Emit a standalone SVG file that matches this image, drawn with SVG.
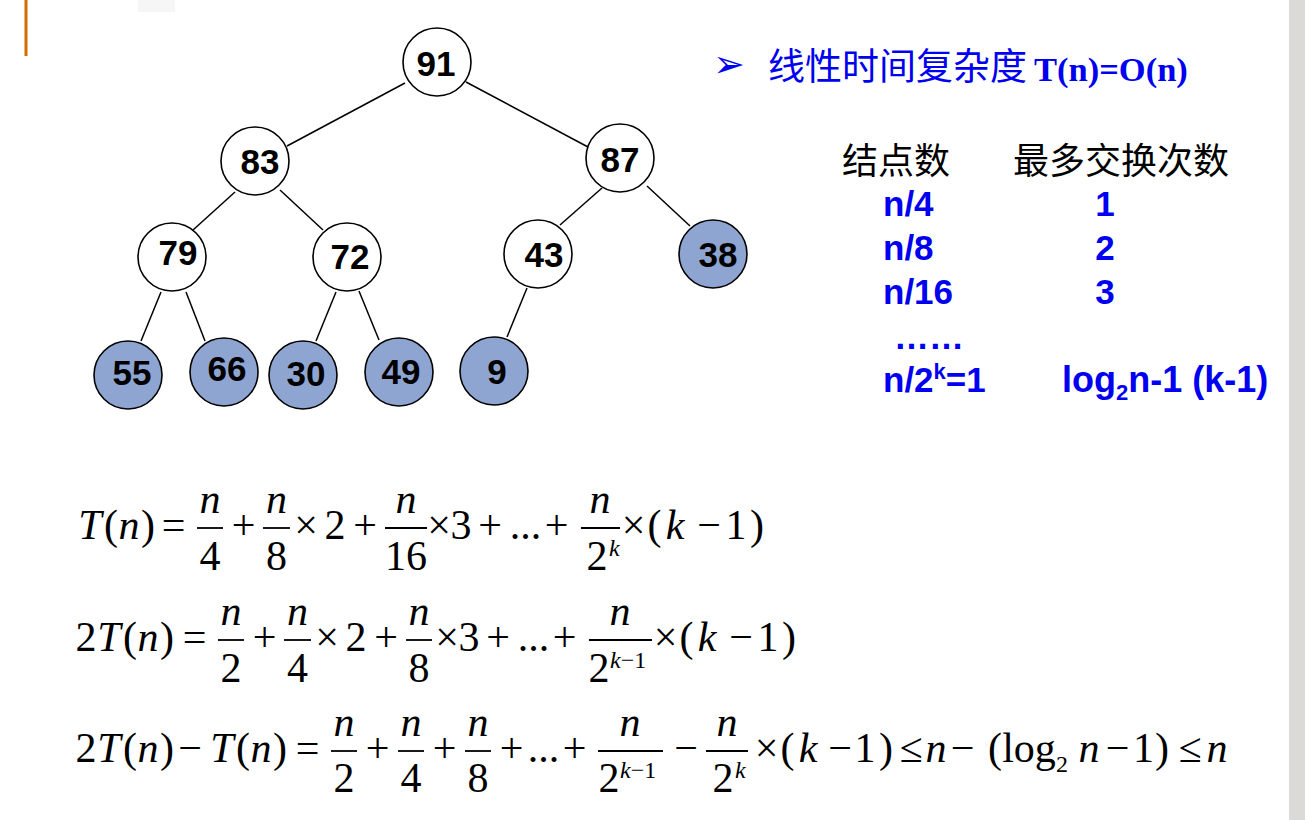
<svg xmlns="http://www.w3.org/2000/svg" width="1305" height="820" viewBox="0 0 1305 820">
<style>
.nd{stroke:#000;stroke-width:1.6}
.w{fill:#fff}
.b{fill:#8FA5D1}
.nt{font-family:"Liberation Sans",Arial,sans-serif;font-weight:bold;font-size:35px;fill:#000;text-anchor:middle}
.ed line{stroke:#000;stroke-width:1.5}
.cn{font-family:"Noto Sans CJK SC",sans-serif;font-size:36px;fill:#000}
.bl{font-family:"Liberation Sans",Arial,sans-serif;font-weight:bold;font-size:35px;fill:#0000F0}
.m{font-family:"Liberation Serif","Times New Roman",serif;font-size:42px;fill:#000;text-anchor:middle}
.i{font-style:italic}
.s{font-size:24px;text-anchor:start}
.fl{stroke:#000;stroke-width:1.8}
</style>
<rect x="1289" y="0" width="16" height="820" fill="#DCDAD6"/>
<rect x="24.5" y="0" width="3" height="56" fill="#D46C00"/>
<rect x="138" y="0" width="37" height="12" fill="#F6F6F6"/>

<g id="connectors" class="ed">
<line x1="405" y1="83" x2="287" y2="146"/>
<line x1="466" y1="82" x2="588" y2="147"/>
<line x1="235" y1="192" x2="193" y2="230"/>
<line x1="280" y1="190" x2="323" y2="230"/>
<line x1="602" y1="188" x2="560" y2="225"/>
<line x1="647" y1="186" x2="690" y2="226"/>
<line x1="161" y1="292" x2="141" y2="341"/>
<line x1="186" y1="292" x2="205" y2="341"/>
<line x1="336" y1="292" x2="316" y2="341"/>
<line x1="359" y1="291" x2="379" y2="340"/>
<line x1="527" y1="288" x2="507" y2="337"/>
</g>

<g id="n91"><circle class="nd w" cx="437" cy="62" r="34"/><text class="nt" x="436" y="76">91</text></g>
<g id="n83"><circle class="nd w" cx="255" cy="161" r="34"/><text class="nt" x="260" y="174">83</text></g>
<g id="n87"><circle class="nd w" cx="620" cy="158" r="34"/><text class="nt" x="620" y="172">87</text></g>
<g id="n79"><circle class="nd w" cx="172" cy="257" r="34"/><text class="nt" x="178" y="265">79</text></g>
<g id="n72"><circle class="nd w" cx="347" cy="257" r="34"/><text class="nt" x="350" y="269">72</text></g>
<g id="n43"><circle class="nd w" cx="538" cy="254" r="34"/><text class="nt" x="544" y="267">43</text></g>
<g id="n38"><circle class="nd b" cx="713" cy="254" r="34"/><text class="nt" x="718" y="267">38</text></g>
<g id="n55"><circle class="nd b" cx="128" cy="375" r="34"/><text class="nt" x="132" y="385">55</text></g>
<g id="n66"><circle class="nd b" cx="224" cy="372" r="34"/><text class="nt" x="227" y="381">66</text></g>
<g id="n30"><circle class="nd b" cx="303" cy="375" r="34"/><text class="nt" x="306" y="386">30</text></g>
<g id="n49"><circle class="nd b" cx="399" cy="372" r="34"/><text class="nt" x="401" y="384">49</text></g>
<g id="n9"><circle class="nd b" cx="494" cy="371" r="34"/><text class="nt" x="497" y="384">9</text></g>

<g id="heading">
<text x="713" y="77" font-family="DejaVu Sans,sans-serif" font-size="38" fill="#0000F0">➢</text>
<text x="768" y="80" font-family="Noto Sans CJK SC,sans-serif" font-size="37" fill="#0000F0">线性时间复杂度</text>
<text x="1034" y="81" font-family="Liberation Serif,Times New Roman,serif" font-weight="bold" font-size="34.5" fill="#0000F0">T(n)=O(n)</text>
</g>

<g id="table">
<text class="cn" x="842" y="174">结点数</text>
<text class="cn" x="1013" y="174">最多交换次数</text>
<text class="bl" x="883" y="216">n/4</text>
<text class="bl" x="1105" y="216" text-anchor="middle">1</text>
<text class="bl" x="883" y="260">n/8</text>
<text class="bl" x="1105" y="260" text-anchor="middle">2</text>
<text class="bl" x="883" y="304">n/16</text>
<text class="bl" x="1105" y="304" text-anchor="middle">3</text>
<text class="bl" x="894" y="349">……</text>
<text class="bl" x="883" y="392">n/2<tspan font-size="22" dy="-13">k</tspan><tspan dy="13">=1</tspan></text>
<text class="bl" x="1062" y="392" style="font-size:36px">log<tspan font-size="22" dy="8">2</tspan><tspan dy="-8">n-1 (k-1)</tspan></text>
</g>

<g id="formula1">
<text class="m i" x="90" y="539">T</text><text class="m" x="111" y="539">(</text><text class="m i" x="129" y="539">n</text><text class="m" x="148" y="539">)</text>
<text class="m" x="173.5" y="539">=</text>
<line class="fl" x1="197" y1="528" x2="223" y2="528"/><text class="m i" x="210" y="513">n</text><text class="m" x="210" y="570">4</text>
<text class="m" x="243.5" y="539">+</text>
<line class="fl" x1="263" y1="528" x2="290" y2="528"/><text class="m i" x="276.5" y="513">n</text><text class="m" x="276.5" y="570">8</text>
<text class="m" x="306" y="539">×</text><text class="m" x="335" y="539">2</text><text class="m" x="365" y="539">+</text>
<line class="fl" x1="385" y1="528" x2="427" y2="528"/><text class="m i" x="406" y="513">n</text><text class="m" x="406" y="570">16</text>
<text class="m" x="439" y="539">×</text><text class="m" x="461" y="539">3</text><text class="m" x="490" y="539">+</text>
<text class="m" x="525.5" y="539">...</text><text class="m" x="556.5" y="539">+</text>
<line class="fl" x1="581" y1="528" x2="620" y2="528"/><text class="m i" x="600" y="513">n</text><text class="m" x="597" y="570">2</text><text class="m i s" x="609" y="556">k</text>
<text class="m" x="633.5" y="539">×</text><text class="m" x="654.5" y="539">(</text><text class="m i" x="675" y="539">k</text><text class="m" x="709" y="539">−</text><text class="m" x="736" y="539">1</text><text class="m" x="757" y="539">)</text>
</g>

<g id="formula2">
<text class="m" x="86" y="651">2</text><text class="m i" x="109" y="651">T</text><text class="m" x="130" y="651">(</text><text class="m i" x="148" y="651">n</text><text class="m" x="167" y="651">)</text>
<text class="m" x="194.5" y="651">=</text>
<line class="fl" x1="218" y1="640" x2="244" y2="640"/><text class="m i" x="231" y="625">n</text><text class="m" x="231" y="682">2</text>
<text class="m" x="264.5" y="651">+</text>
<line class="fl" x1="284" y1="640" x2="311" y2="640"/><text class="m i" x="297.5" y="625">n</text><text class="m" x="297.5" y="682">4</text>
<text class="m" x="327" y="651">×</text><text class="m" x="356" y="651">2</text><text class="m" x="386" y="651">+</text>
<line class="fl" x1="406" y1="640" x2="432" y2="640"/><text class="m i" x="419" y="625">n</text><text class="m" x="419" y="682">8</text>
<text class="m" x="447" y="651">×</text><text class="m" x="469" y="651">3</text><text class="m" x="498" y="651">+</text>
<text class="m" x="533.5" y="651">...</text><text class="m" x="564.5" y="651">+</text>
<line class="fl" x1="589" y1="640" x2="652" y2="640"/><text class="m i" x="620" y="625">n</text><text class="m" x="599" y="682">2</text><text class="m s" x="610" y="668"><tspan class="i">k</tspan>−1</text>
<text class="m" x="665.5" y="651">×</text><text class="m" x="686.5" y="651">(</text><text class="m i" x="707" y="651">k</text><text class="m" x="741" y="651">−</text><text class="m" x="768" y="651">1</text><text class="m" x="789" y="651">)</text>
</g>

<g id="formula3">
<text class="m" x="86" y="762">2</text><text class="m i" x="109" y="762">T</text><text class="m" x="130" y="762">(</text><text class="m i" x="148" y="762">n</text><text class="m" x="167" y="762">)</text>
<text class="m" x="190" y="762">−</text>
<text class="m i" x="222" y="762">T</text><text class="m" x="243" y="762">(</text><text class="m i" x="261" y="762">n</text><text class="m" x="280" y="762">)</text>
<text class="m" x="307.5" y="762">=</text>
<line class="fl" x1="331" y1="751" x2="357" y2="751"/><text class="m i" x="344" y="736">n</text><text class="m" x="344" y="792">2</text>
<text class="m" x="377.5" y="762">+</text>
<line class="fl" x1="398" y1="751" x2="424" y2="751"/><text class="m i" x="411" y="736">n</text><text class="m" x="411" y="792">4</text>
<text class="m" x="444.5" y="762">+</text>
<line class="fl" x1="465" y1="751" x2="491" y2="751"/><text class="m i" x="478" y="736">n</text><text class="m" x="478" y="792">8</text>
<text class="m" x="511.5" y="762">+</text><text class="m" x="543.5" y="762">...</text><text class="m" x="574.5" y="762">+</text>
<line class="fl" x1="598" y1="751" x2="663" y2="751"/><text class="m i" x="630" y="736">n</text><text class="m" x="609" y="792">2</text><text class="m s" x="620" y="778"><tspan class="i">k</tspan>−1</text>
<text class="m" x="686" y="762">−</text>
<line class="fl" x1="706" y1="751" x2="748" y2="751"/><text class="m i" x="727" y="736">n</text><text class="m" x="723" y="792">2</text><text class="m i s" x="735" y="778">k</text>
<text class="m" x="766.5" y="762">×</text><text class="m" x="787.5" y="762">(</text><text class="m i" x="808" y="762">k</text><text class="m" x="840" y="762">−</text><text class="m" x="865" y="762">1</text><text class="m" x="886" y="762">)</text>
<text class="m" x="911" y="762">≤</text><text class="m i" x="936" y="762">n</text><text class="m" x="962.5" y="762">−</text>
<text class="m" x="995" y="762">(</text><text class="m" x="1029" y="762">log</text><text class="m" x="1062" y="772" style="font-size:24px">2</text>
<text class="m i" x="1089" y="762">n</text><text class="m" x="1117.5" y="762">−</text><text class="m" x="1143.5" y="762">1</text><text class="m" x="1162" y="762">)</text>
<text class="m" x="1190" y="762">≤</text><text class="m i" x="1217" y="762">n</text>
</g>
</svg>
